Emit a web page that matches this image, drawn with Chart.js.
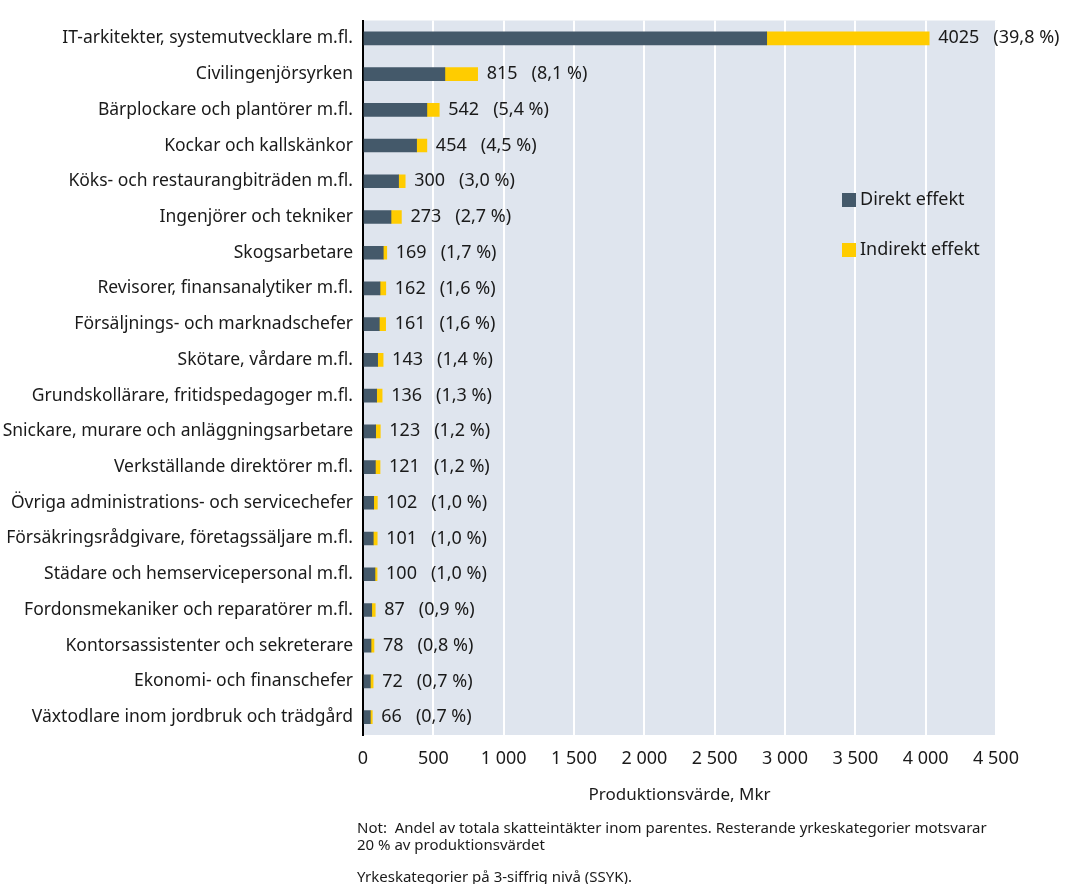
<!DOCTYPE html>
<html>
<head>
<meta charset="utf-8">
<script src="https://cdn.jsdelivr.net/npm/chart.js@4"></script>
<style>
  body { margin: 0; background: #fff; }
  #wrap { position: relative; width: 1066px; height: 884px; }
  .note { position: absolute; left: 357px; font-family: "Noto Sans", sans-serif; font-size: 15px; color: #1a1a1a; line-height: 17px; }
</style>
</head>
<body>
<div id="wrap">
  <canvas id="myChart" width="1066" height="884"></canvas>
  <div class="note" style="top:819px">Not:&nbsp; Andel av totala skatteintäkter inom parentes. Resterande yrkeskategorier motsvarar<br>20 % av produktionsvärdet</div>
  <div class="note" style="top:868px">Yrkeskategorier på 3-siffrig nivå (SSYK).</div>
</div>
<script>
// occupations, top to bottom
var yrken = [
  "IT-arkitekter, systemutvecklare m.fl.",
  "Civilingenjörsyrken",
  "Bärplockare och plantörer m.fl.",
  "Kockar och kallskänkor",
  "Köks- och restaurangbiträden m.fl.",
  "Ingenjörer och tekniker",
  "Skogsarbetare",
  "Revisorer, finansanalytiker m.fl.",
  "Försäljnings- och marknadschefer",
  "Skötare, vårdare m.fl.",
  "Grundskollärare, fritidspedagoger m.fl.",
  "Snickare, murare och anläggningsarbetare",
  "Verkställande direktörer m.fl.",
  "Övriga administrations- och servicechefer",
  "Försäkringsrådgivare, företagssäljare m.fl.",
  "Städare och hemservicepersonal m.fl.",
  "Fordonsmekaniker och reparatörer m.fl.",
  "Kontorsassistenter och sekreterare",
  "Ekonomi- och finanschefer",
  "Växtodlare inom jordbruk och trädgård"
];
var direkt   = [2870, 582, 454, 381, 253, 199, 144, 121, 116, 104, 97, 90, 88, 76, 73, 85, 62, 57, 52, 52];
var indirekt = [1155, 233, 88, 73, 47, 74, 25, 41, 45, 39, 39, 33, 33, 26, 28, 15, 25, 21, 20, 14];
var totalt   = [4025, 815, 542, 454, 300, 273, 169, 162, 161, 143, 136, 123, 121, 102, 101, 100, 87, 78, 72, 66];
var andel    = ["39,8", "8,1", "5,4", "4,5", "3,0", "2,7", "1,7", "1,6", "1,6", "1,4", "1,3", "1,2", "1,2", "1,0", "1,0", "1,0", "0,9", "0,8", "0,7", "0,7"];

var FONT = "Noto Sans";

var bgPlugin = {
  id: 'plotBg',
  beforeDraw: function(chart) {
    var a = chart.chartArea, c = chart.ctx;
    c.save();
    c.fillStyle = '#dfe5ee';
    c.fillRect(a.left, a.top, a.right - a.left, a.bottom - a.top);
    c.restore();
  }
};

var labelPlugin = {
  id: 'totals',
  afterDatasetsDraw: function(chart) {
    var c = chart.ctx, x = chart.scales.x, y = chart.scales.y;
    c.save();
    c.font = '18px "' + FONT + '"';
    c.fillStyle = '#1a1a1a';
    c.textBaseline = 'middle';
    totalt.forEach(function(t, i) {
      var px = x.getPixelForValue(t) + 9;
      var py = y.getPixelForValue(i);
      c.fillText(String(t), px, py);
      var w = c.measureText(String(t)).width;
      c.fillText('(' + andel[i] + ' %)', px + w + 14, py);
    });
    // legend inside plot
    var items = [['Direkt effekt', '#44596a', 200], ['Indirekt effekt', '#ffcc00', 250]];
    items.forEach(function(it) {
      c.fillStyle = it[1];
      c.fillRect(842, it[2] - 7, 14, 14);
      c.fillStyle = '#1a1a1a';
      c.fillText(it[0], 860, it[2]);
    });
    c.restore();
  }
};

var ctx = document.getElementById("myChart");
var myChart = new Chart(ctx, {
  type: 'bar',
  data: {
    labels: yrken,
    datasets: [
      { label: "Direkt effekt", data: direkt, backgroundColor: "#44596a", barThickness: 13 },
      { label: "Indirekt effekt", data: indirekt, backgroundColor: "#ffcc00", barThickness: 13 }
    ]
  },
  options: {
    indexAxis: 'y',
    responsive: false,
    animation: false,
    layout: { padding: { top: 15, right: 70, bottom: 75, left: 0 } },
    plugins: { legend: { display: false }, tooltip: { enabled: false } },
    scales: {
      x: {
        stacked: true,
        min: 0, max: 4500,
        ticks: {
          stepSize: 500,
          color: '#1a1a1a',
          font: { family: FONT, size: 18 },
          padding: 13,
          callback: function(v) { return v >= 1000 ? Math.floor(v / 1000) + ' ' + String(v % 1000).padStart(3, '0') : String(v); }
        },
        grid: { color: '#ffffff', lineWidth: 2, drawTicks: false },
        border: { display: false },
        title: { display: true, text: 'Produktionsvärde, Mkr', color: '#1a1a1a', font: { family: FONT, size: 17 }, padding: { top: 2 } }
      },
      y: {
        stacked: true,
        ticks: { color: '#1a1a1a', font: { family: FONT, size: 17.5 }, padding: 10 },
        grid: { display: false, drawTicks: false },
        border: { display: true, color: '#000000', width: 2 },
        afterFit: function(s) { s.width = 363; }
      }
    }
  },
  plugins: [bgPlugin, labelPlugin]
});
</script>
</body>
</html>
